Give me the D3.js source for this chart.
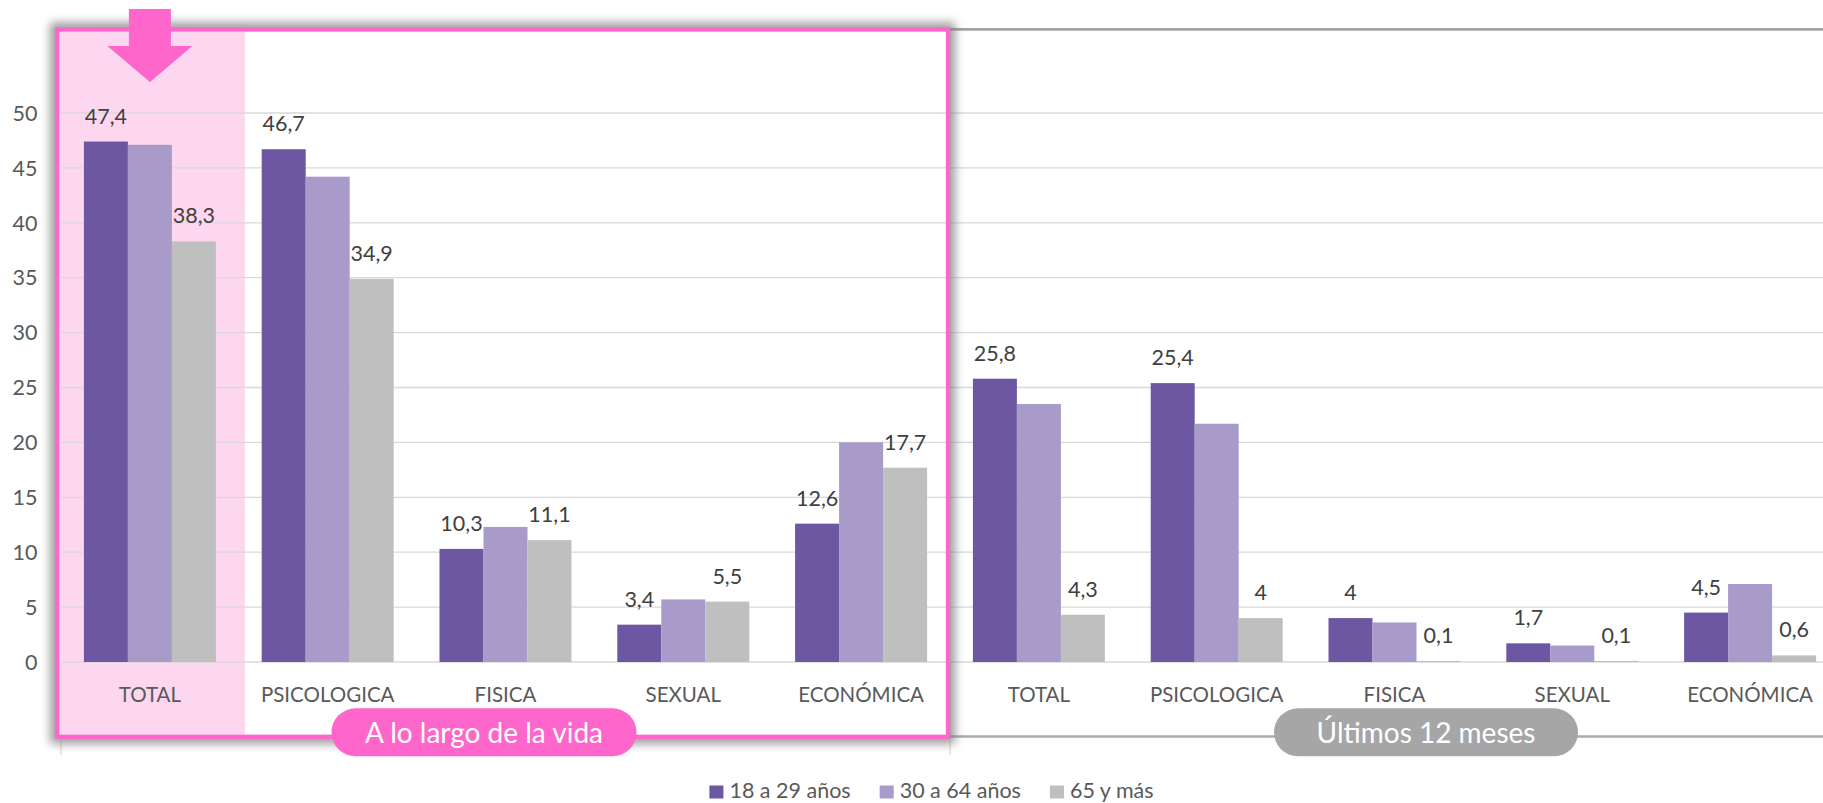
<!DOCTYPE html>
<html>
<head>
<meta charset="utf-8">
<script src="https://cdn.jsdelivr.net/npm/d3@7"></script>
<style>
  html, body { margin: 0; padding: 0; background: #fff; }
  svg { display: block; }
  text { font-family: Lato, "Noto Sans", sans-serif; }
</style>
</head>
<body>
<svg id="chart" width="1823" height="803"></svg>
<script>
// ---------- DATA ----------
const periods = ["A lo largo de la vida", "Últimos 12 meses"];
const categories = ["TOTAL", "PSICOLOGICA", "FISICA", "SEXUAL", "ECONÓMICA"];
const seriesNames = ["18 a 29 años", "30 a 64 años", "65 y más"];
// values per period, per category, for each series
const vida18_29   = [47.4, 46.7, 10.3, 3.4, 12.6];
const vida30_64   = [47.1, 44.2, 12.3, 5.7, 20.0];
const vida65      = [38.3, 34.9, 11.1, 5.5, 17.7];
const meses18_29  = [25.8, 25.4, 4.0, 1.7, 4.5];
const meses30_64  = [23.5, 21.7, 3.6, 1.5, 7.1];
const meses65     = [4.3, 4.0, 0.1, 0.1, 0.6];
const yTicks = [0, 5, 10, 15, 20, 25, 30, 35, 40, 45, 50];
const labeledSeries = [0, 2];

// ---------- STYLE ----------
const colors = ["#6E57A2", "#A89BC9", "#BFBFBF"];
const pink = "#FF66CC";
const pinkLight = "#FDD6F0";
const grid = "#D9D9D9";

const svg = d3.select("#chart");
const W = 1823;

// build rows
const periodValues = [[vida18_29, vida30_64, vida65], [meses18_29, meses30_64, meses65]];
const rows = [];
periods.forEach((p, pi) => {
  categories.forEach((c, ci) => {
    rows.push({ key: pi + "|" + c, period: p, pi, cat: c,
      values: periodValues[pi].map(arr => arr[ci]) });
  });
});

const plotLeft = 61, plotRight = 1839, baseY = 662, topY = 113;
const x0 = d3.scaleBand().domain(rows.map(r => r.key))
  .range([plotLeft, plotRight]).paddingInner(0.2576).paddingOuter(0.1288);
const x1 = d3.scaleBand().domain(d3.range(seriesNames.length)).range([0, x0.bandwidth()]);
const y = d3.scaleLinear().domain([0, 50]).range([baseY, topY]);
const step = x0.step();
const groupEdge = i => plotLeft + step * 5 * i;

// defs
const defs = svg.append("defs");
const blur = defs.append("filter").attr("id", "blur").attr("x", "-10%").attr("y", "-10%")
  .attr("width", "120%").attr("height", "120%");
blur.append("feGaussianBlur").attr("stdDeviation", 5);

const frame = { x: 57.2, y: 29.5, w: groupEdge(1) - 2 - 57.2, h: 707.3 };
const mask = defs.append("mask").attr("id", "outside");
mask.append("rect").attr("x", 0).attr("y", 0).attr("width", W).attr("height", 803).attr("fill", "#fff");
mask.append("rect").attr("x", frame.x).attr("y", frame.y).attr("width", frame.w).attr("height", frame.h).attr("fill", "#000");

// pink band behind TOTAL (first category)
const firstKey = rows[0].key;
svg.append("rect")
  .attr("x", frame.x + 2)
  .attr("y", frame.y + 2)
  .attr("width", x0(firstKey) + x0.bandwidth() + 29 - (frame.x + 2))
  .attr("height", frame.h - 4)
  .attr("fill", pinkLight);

// top border line of chart (right part)
svg.append("line").attr("x1", frame.x).attr("x2", W).attr("y1", 29.3).attr("y2", 29.3)
  .attr("stroke", "#A3A3A3").attr("stroke-width", 2.7);

// gridlines
svg.append("g").selectAll("line").data(yTicks).join("line")
  .attr("x1", plotLeft).attr("x2", W)
  .attr("y1", d => y(d)).attr("y2", d => y(d))
  .attr("stroke", grid).attr("stroke-width", 1.3);

// category-axis dividers
svg.append("g").selectAll("line").data([0, 1, 2]).join("line")
  .attr("x1", d => groupEdge(d)).attr("x2", d => groupEdge(d))
  .attr("y1", baseY).attr("y2", 755)
  .attr("stroke", grid).attr("stroke-width", 1.3);

// y-axis tick labels
svg.append("g").selectAll("text").data(yTicks).join("text")
  .attr("x", 37.5).attr("y", d => y(d)).attr("dy", "0.36em")
  .attr("text-anchor", "end").attr("font-size", 21.5).attr("fill", "#595959")
  .text(d => d);

// bars
const g = svg.append("g").selectAll("g").data(rows).join("g")
  .attr("transform", d => `translate(${x0(d.key)},0)`);
g.selectAll("rect").data(d => d.values.map((v, i) => ({ v, i }))).join("rect")
  .attr("x", d => x1(d.i)).attr("width", x1.bandwidth())
  .attr("y", d => y(d.v)).attr("height", d => baseY - y(d.v))
  .attr("fill", d => colors[d.i]);

// data labels
const fmt = v => String(v).replace(".", ",");
g.selectAll("text.lbl").data(d => d.values.map((v, i) => ({ v, i })).filter(d => labeledSeries.includes(d.i)))
  .join("text").attr("class", "lbl")
  .attr("x", d => x1(d.i) + x1.bandwidth() / 2)
  .attr("y", d => y(d.v) - 18)
  .attr("text-anchor", "middle").attr("font-size", 21.5).attr("fill", "#404040")
  .text(d => fmt(d.v));

// category labels
svg.append("g").selectAll("text").data(rows).join("text")
  .attr("x", d => x0(d.key) + x0.bandwidth() / 2).attr("y", 702)
  .attr("text-anchor", "middle").attr("font-size", 20.5).attr("fill", "#595959")
  .text(d => d.cat);

// gray line for second period
svg.append("line").attr("x1", groupEdge(1)).attr("x2", W).attr("y1", 736.5).attr("y2", 736.5)
  .attr("stroke", "#ABABAB").attr("stroke-width", 2.7);

// frame shadow (outside only)
svg.append("rect").attr("x", frame.x).attr("y", frame.y).attr("width", frame.w).attr("height", frame.h)
  .attr("fill", "none").attr("stroke", "#7A7A7A").attr("stroke-width", 14)
  .attr("filter", "url(#blur)").attr("mask", "url(#outside)").attr("opacity", 0.75);

// pink frame
svg.append("rect").attr("x", frame.x).attr("y", frame.y).attr("width", frame.w).attr("height", frame.h)
  .attr("fill", "none").attr("stroke", pink).attr("stroke-width", 4.3);

// arrow over TOTAL
const ac = x0(firstKey) + x0.bandwidth() / 2;
svg.append("polygon")
  .attr("points", [
    [ac - 21, 9], [ac + 21, 9], [ac + 21, 46], [ac + 42.5, 46],
    [ac, 82], [ac - 42.5, 46], [ac - 21, 46]
  ].map(p => p.join(",")).join(" "))
  .attr("fill", pink);

// period pills
const pills = [
  { text: periods[0], cx: 484, w: 305, fill: pink },
  { text: periods[1], cx: 1426, w: 304, fill: "#A6A6A6" }
];
const pg = svg.append("g").selectAll("g").data(pills).join("g");
pg.append("rect").attr("x", d => d.cx - d.w / 2).attr("y", 708.3)
  .attr("width", d => d.w).attr("height", 48).attr("rx", 24).attr("fill", d => d.fill);
pg.append("text").attr("x", d => d.cx).attr("y", 742.5).attr("text-anchor", "middle")
  .attr("font-size", 28).attr("fill", "#fff").text(d => d.text);

// legend
const lg = svg.append("g");
const items = lg.selectAll("g").data(seriesNames).join("g");
items.append("rect").attr("width", 14).attr("height", 13).attr("y", 785.5)
  .attr("fill", (d, i) => colors[i]);
items.append("text").attr("x", 20).attr("y", 798).attr("font-size", 21.5).attr("fill", "#595959").text(d => d);
const widths = [];
items.each(function () { widths.push(20 + this.querySelector("text").getComputedTextLength()); });
const gap = 29;
const total = d3.sum(widths) + gap * (widths.length - 1);
let start = 931.5 - total / 2;
items.attr("transform", (d, i) => {
  const t = `translate(${start},0)`; start += widths[i] + gap; return t;
});
</script>
</body>
</html>
